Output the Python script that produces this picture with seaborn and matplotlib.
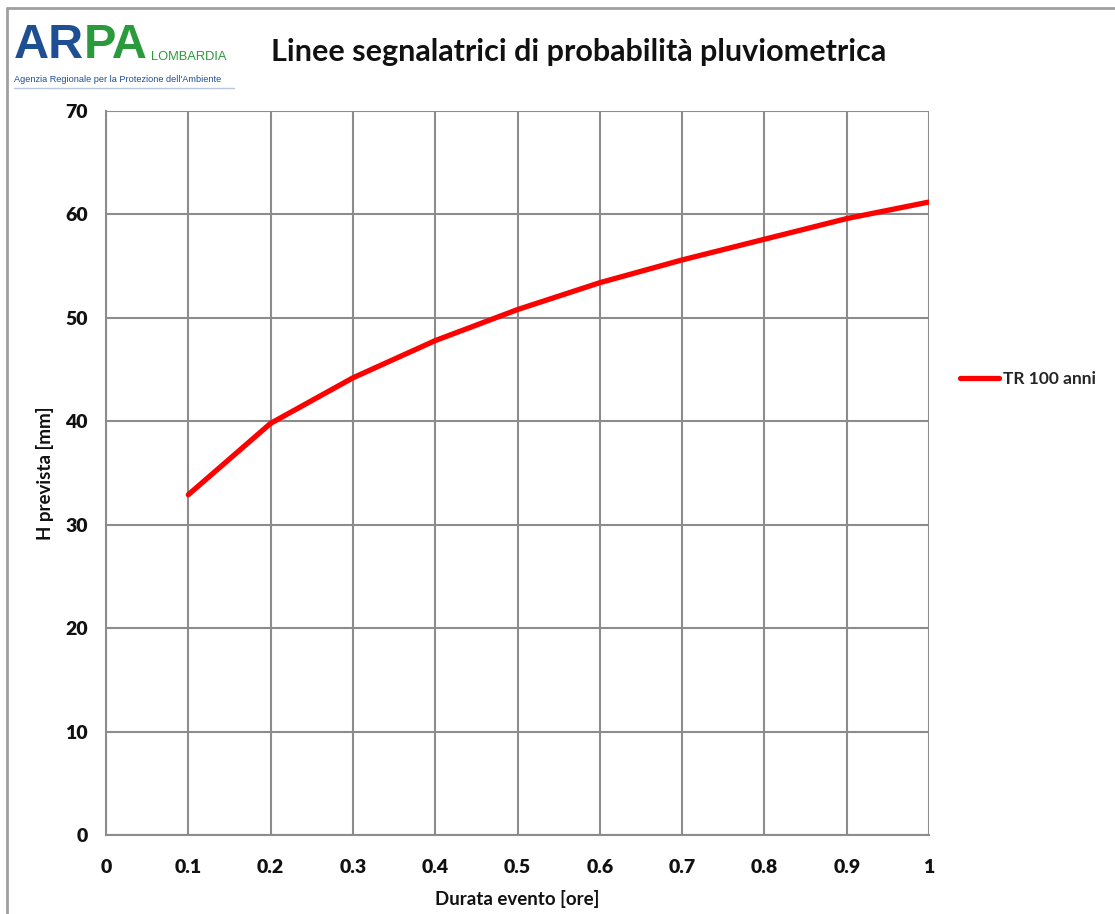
import matplotlib
matplotlib.use("Agg")
import matplotlib.pyplot as plt
from matplotlib.lines import Line2D
import seaborn as sns
import pandas as pd

# Rainfall depth-duration curve, return period 100 years
durata_ore = [0.1, 0.2, 0.3, 0.4, 0.5, 0.6, 0.7, 0.8, 0.9, 1.0]
h_prevista_mm = [32.9, 39.8, 44.2, 47.8, 50.8, 53.4, 55.6, 57.6, 59.6, 61.2]
serie_label = "TR 100 anni"
x_ticks = [0, 0.1, 0.2, 0.3, 0.4, 0.5, 0.6, 0.7, 0.8, 0.9, 1]
x_tick_labels = ["0", "0.1", "0.2", "0.3", "0.4", "0.5", "0.6", "0.7", "0.8", "0.9", "1"]
y_ticks = [0, 10, 20, 30, 40, 50, 60, 70]

df = pd.DataFrame({"durata": durata_ore, "h": h_prevista_mm, "serie": serie_label})

sns.set_theme(style="white")
plt.rcParams["font.family"] = ["Lato", "DejaVu Sans"]

W, H = 1115, 914
grid_col = "#8c8c8c"
fig = plt.figure(figsize=(W / 100, H / 100), dpi=100)
ax = fig.add_axes([106 / W, 79 / H, (929 - 106) / W, (835 - 111) / H])

sns.lineplot(data=df, x="durata", y="h", color="#ff0000", linewidth=3.8,
             ax=ax, legend=False, solid_capstyle="round", solid_joinstyle="round")

ax.set_xlim(0, 1)
ax.set_ylim(0, 70)
ax.set_xticks(x_ticks)
ax.set_xticklabels(x_tick_labels)
ax.set_yticks(y_ticks)
ax.grid(True, color=grid_col, linewidth=1.5)
for s in ["top", "right"]:
    ax.spines[s].set_visible(False)
for s in ["left", "bottom"]:
    ax.spines[s].set_color(grid_col)
    ax.spines[s].set_linewidth(1.5)
ax.tick_params(axis="both", which="both", direction="out", length=7, width=1.5,
               color=grid_col, labelsize=14, pad=6)
ax.tick_params(axis="x", pad=10)
for lbl in ax.get_xticklabels() + ax.get_yticklabels():
    lbl.set_fontweight("heavy")
    lbl.set_color("#111111")
ax.set_xlabel("Durata evento [ore]", fontsize=13.5, fontweight="bold", color="#111111", labelpad=10)
ax.set_ylabel("H prevista [mm]", fontsize=13.5, fontweight="bold", color="#111111", labelpad=8)

# Legend entry on the right
handle = Line2D([], [], color="#ff0000", linewidth=3.8)
fig.legend([handle], [serie_label], loc="center left", bbox_to_anchor=(960 / W, 1 - 379 / H),
           frameon=False, handlelength=2.25, handletextpad=0.2, borderpad=0, borderaxespad=0,
           prop={"weight": "bold", "size": 12.5, "family": "Lato"})

# Title
fig.text(579 / W, 1 - 52 / H, "Linee segnalatrici di probabilità pluviometrica",
         ha="center", va="center", fontsize=22, fontweight="bold", color="#111111")

# Logo block
blue = "#1f4f93"
green = "#2a9a3c"
fig.text(14 / W, 1 - 45 / H, "AR", ha="left", va="center", fontsize=35,
         fontweight="bold", color=blue, family="Liberation Sans")
fig.text(84 / W, 1 - 45 / H, "PA", ha="left", va="center", fontsize=35,
         fontweight="bold", color=green, family="Liberation Sans")
fig.text(151 / W, 1 - 57 / H, "LOMBARDIA", ha="left", va="center", fontsize=9.3,
         color=green, family="Liberation Sans")
fig.text(14 / W, 1 - 79 / H, "Agenzia Regionale per la Protezione dell'Ambiente",
         ha="left", va="center", fontsize=6.6, color=blue, family="Liberation Sans")
fig.add_artist(Line2D([14 / W, 234 / W], [1 - 88 / H, 1 - 88 / H],
                      color="#b8c8d8", linewidth=1.0))

# Outer frame (left and top edges)
fig.add_artist(Line2D([7 / W, 7 / W], [0, 1 - 8 / H], color="#a0a0a0", linewidth=2))
fig.add_artist(Line2D([7 / W, 1], [1 - 8 / H, 1 - 8 / H], color="#a0a0a0", linewidth=2))

fig.savefig("out.png", dpi=100)
